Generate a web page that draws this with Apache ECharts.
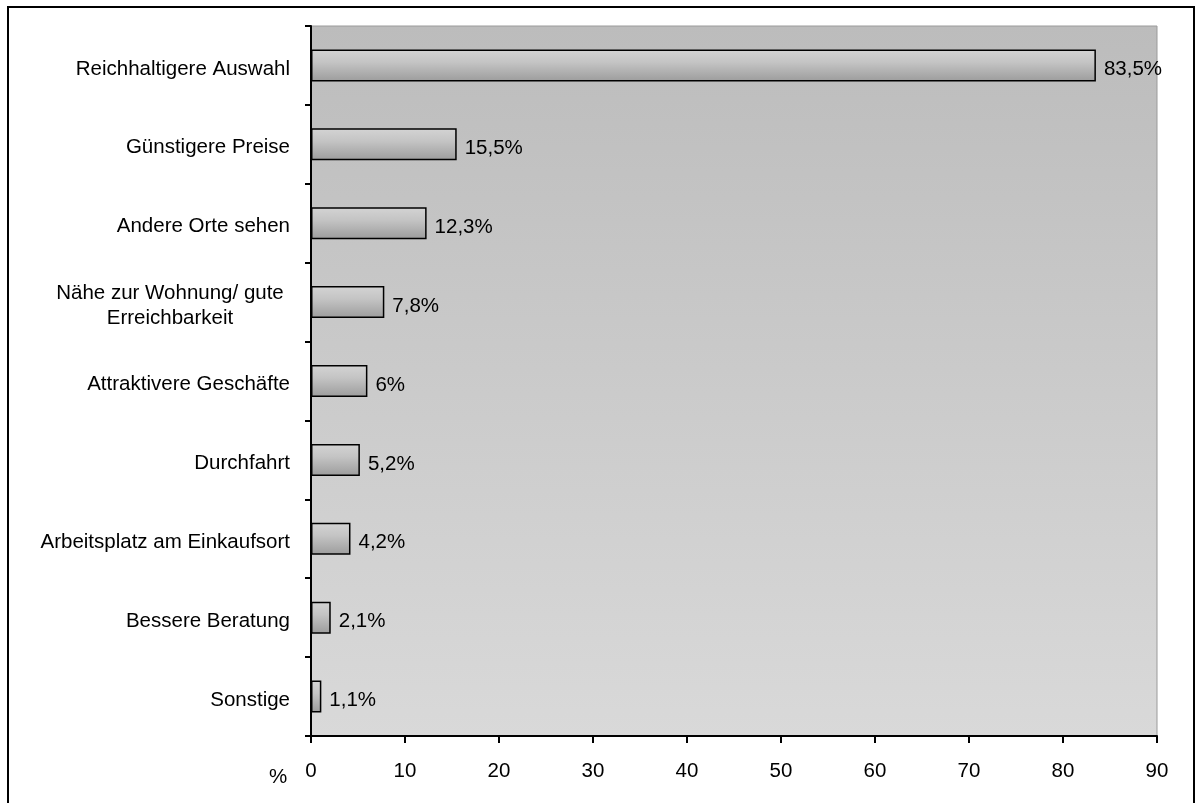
<!DOCTYPE html>
<html>
<head>
<meta charset="utf-8">
<script src="https://cdn.jsdelivr.net/npm/echarts@6/dist/echarts.min.js"></script>
<style>
  html, body { margin: 0; padding: 0; background: #fff; }
  #main { width: 1197px; height: 803px; }
</style>
</head>
<body>
<div id="main"></div>
<script>
// Gründe für den Einkauf (in %)
var categories = [
    'Reichhaltigere Auswahl',
    'Günstigere Preise',
    'Andere Orte sehen',
    'Nähe zur Wohnung/ gute\nErreichbarkeit',
    'Attraktivere Geschäfte',
    'Durchfahrt',
    'Arbeitsplatz am Einkaufsort',
    'Bessere Beratung',
    'Sonstige'
];
var values = [83.5, 15.5, 12.3, 7.8, 6, 5.2, 4.2, 2.1, 1.1];
var valueLabels = ['83,5%', '15,5%', '12,3%', '7,8%', '6%', '5,2%', '4,2%', '2,1%', '1,1%'];

var myChart = echarts.init(document.getElementById('main'));

var option = {
    backgroundColor: '#fff',
    textStyle: { fontFamily: 'Liberation Sans, Arial, sans-serif' },
    grid: {
        left: 311, right: 40, top: 26, bottom: 67,
        show: true,
        borderColor: '#9a9a9a',
        borderWidth: 1,
        backgroundColor: new echarts.graphic.LinearGradient(0, 0, 0, 1, [
            { offset: 0, color: '#bcbcbc' },
            { offset: 1, color: '#d9d9d9' }
        ])
    },
    xAxis: {
        type: 'value',
        min: 0, max: 90, interval: 10,
        axisLine: { show: true, lineStyle: { color: '#000', width: 2 } },
        axisTick: { show: true, length: 7, lineStyle: { color: '#000', width: 2 } },
        splitLine: { show: false },
        axisLabel: { color: '#000', fontSize: 20.5, margin: 25 }
    },
    yAxis: {
        type: 'category',
        inverse: true,
        data: categories,
        axisLine: { show: true, lineStyle: { color: '#000', width: 2 } },
        axisTick: { show: true, length: 6, lineStyle: { color: '#000', width: 2 } },
        axisLabel: {
            color: '#000', fontSize: 20.5, margin: 21, lineHeight: 25,
            padding: [7, 0, 0, 0],
            formatter: function (v) {
                if (v.indexOf('\n') >= 0) {
                    return v.split('\n').map(function (s) { return '{c|' + s + '}'; }).join('\n');
                }
                return v;
            },
            rich: {
                c: { width: 240, align: 'center', fontSize: 20.5, lineHeight: 25, color: '#000' }
            }
        }
    },
    series: [{
        type: 'bar',
        data: values,
        barWidth: 32,
        itemStyle: {
            color: new echarts.graphic.LinearGradient(0, 0, 0, 1, [
                { offset: 0, color: '#d4d4d4' },
                { offset: 0.4, color: '#c4c4c4' },
                { offset: 1, color: '#9c9c9c' }
            ]),
            borderColor: '#000',
            borderWidth: 1.5
        },
        label: {
            show: true,
            position: 'right',
            distance: 8,
            offset: [0, 4],
            color: '#000',
            fontSize: 20.5,
            formatter: function (p) { return valueLabels[p.dataIndex]; }
        }
    }],
    graphic: [
        {
            type: 'text', left: 269, top: 767,
            style: { text: '%', fontSize: 20.5, fill: '#000', fontFamily: 'Liberation Sans, Arial, sans-serif' }
        },
        {
            type: 'rect', silent: true,
            shape: { x: 8, y: 7, width: 1186, height: 810 },
            style: { fill: 'none', stroke: '#000', lineWidth: 2 }
        }
    ]
};

myChart.setOption(option);
</script>
</body>
</html>
